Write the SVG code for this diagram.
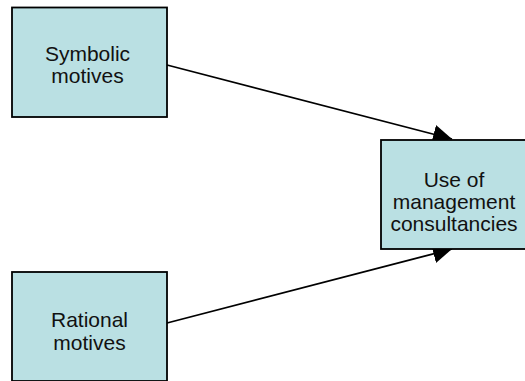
<svg xmlns="http://www.w3.org/2000/svg" width="525" height="381" viewBox="0 0 525 381">
  <style>
    .box { fill: #BAE0E3; stroke: #000; stroke-width: 1.8; }
    .label { font-family: "Liberation Sans", Arial, sans-serif; font-size: 21px; fill: #111; text-anchor: middle; }
    .link { stroke: #000; stroke-width: 1.8; fill: none; marker-end: url(#head); }
  </style>
  <defs>
    <marker id="head" markerUnits="userSpaceOnUse" markerWidth="20" markerHeight="20" refX="19" refY="9.5" orient="auto">
      <path d="M0,0 L19,9.5 L0,19 z" fill="#000"/>
    </marker>
  </defs>

  <g id="connectors">
    <line class="link" x1="167" y1="65" x2="452" y2="139"/>
    <line class="link" x1="167" y1="323" x2="452" y2="249"/>
  </g>

  <g id="symbolic">
    <rect class="box" x="12" y="7.5" width="155" height="109.5"/>
    <text class="label" x="87.5" y="60.5">Symbolic</text>
    <text class="label" x="87.5" y="83">motives</text>
  </g>

  <g id="rational">
    <rect class="box" x="12" y="272" width="155" height="109"/>
    <text class="label" x="89.5" y="327">Rational</text>
    <text class="label" x="89.5" y="349.5">motives</text>
  </g>

  <g id="consultancies">
    <rect class="box" x="381" y="140" width="146" height="109"/>
    <text class="label" x="454" y="187">Use of</text>
    <text class="label" x="454" y="209">management</text>
    <text class="label" x="454" y="231">consultancies</text>
  </g>
</svg>
